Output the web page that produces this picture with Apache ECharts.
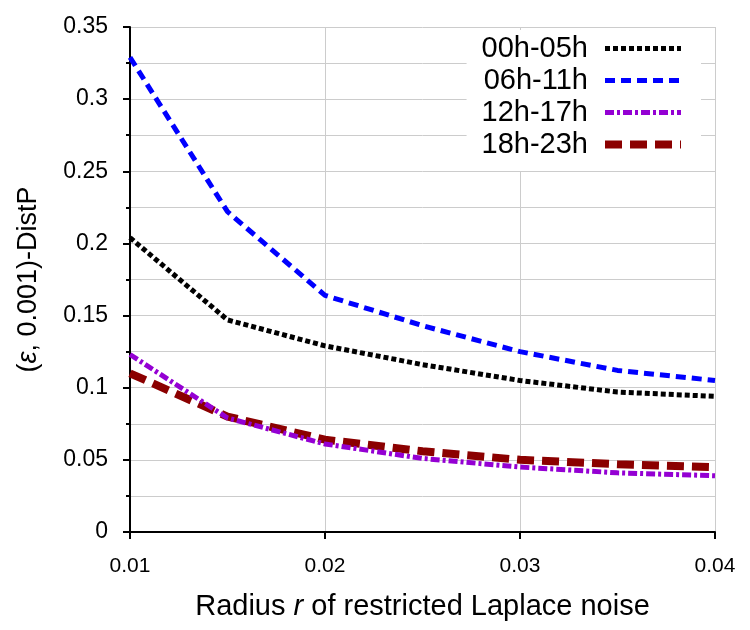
<!DOCTYPE html>
<html>
<head>
<meta charset="utf-8">
<script src="https://cdn.jsdelivr.net/npm/echarts@6/dist/echarts.min.js"></script>
<style>html,body{margin:0;padding:0;background:#fff;}#c{width:750px;height:630px;}</style>
</head>
<body>
<div id="c"></div>
<script>
const radius = [0.01, 0.015, 0.02, 0.025, 0.03, 0.035, 0.04];
const seriesNames = ['00h-05h', '06h-11h', '12h-17h', '18h-23h'];
const s00_05 = [0.204, 0.147, 0.129, 0.116, 0.105, 0.097, 0.094];
const s06_11 = [0.329, 0.222, 0.164, 0.143, 0.125, 0.112, 0.105];
const s12_17 = [0.123, 0.079, 0.061, 0.051, 0.045, 0.041, 0.039];
const s18_23 = [0.110, 0.080, 0.064, 0.056, 0.050, 0.047, 0.045];

const font = 'Liberation Sans, Arial, sans-serif';
const styles = [
  {color: '#000000', width: 5, type: [5, 3]},
  {color: '#0000ff', width: 5, type: [10, 6]},
  {color: '#9400d3', width: 5, type: [9, 3, 3, 3]},
  {color: '#8b0000', width: 8, type: [17, 8]}
];
const allData = [s00_05, s06_11, s12_17, s18_23];

const chart = echarts.init(document.getElementById('c'));
chart.setOption({
  animation: false,
  backgroundColor: '#fff',
  grid: {left: 130, right: 35, top: 27, bottom: 98},
  legend: {
    orient: 'vertical',
    right: 49,
    top: 30,
    align: 'right',
    backgroundColor: '#ffffff',
    padding: [4, 16, 12, 15],
    itemWidth: 76,
    itemHeight: 14,
    itemGap: 3,
    itemStyle: {opacity: 0},
    textStyle: {fontFamily: font, fontSize: 29, color: '#000', lineHeight: 27, padding: [0, 12, 0, 0]},
    data: seriesNames.map((n, k) => ({
      name: n,
      lineStyle: {color: styles[k].color, width: styles[k].width, type: styles[k].type, cap: 'butt'}
    }))
  },
  xAxis: {
    type: 'value',
    min: 0.01, max: 0.04, interval: 0.01,
    axisLine: {show: true, onZero: false, lineStyle: {color: '#000', width: 2}},
    axisTick: {show: true, length: 7, lineStyle: {color: '#000', width: 2}},
    axisLabel: {fontFamily: font, fontSize: 21, color: '#000', margin: 24},
    splitLine: {show: true, lineStyle: {color: '#cccccc', width: 1}},
    name: '{a|Radius }{i|r}{a| of restricted Laplace noise}',
    nameLocation: 'middle',
    nameGap: 60,
    nameTextStyle: {
      rich: {
        a: {fontFamily: font, fontSize: 29, color: '#000'},
        i: {fontFamily: font, fontSize: 29, color: '#000', fontStyle: 'italic'}
      }
    }
  },
  yAxis: {
    type: 'value',
    min: 0, max: 0.35, interval: 0.05,
    axisLine: {show: true, lineStyle: {color: '#000', width: 2}},
    axisTick: {show: true, length: 7, lineStyle: {color: '#000', width: 2}},
    minorTick: {show: true, splitNumber: 2, length: 4, lineStyle: {color: '#000', width: 2}},
    minorSplitLine: {show: true, lineStyle: {color: '#cccccc', width: 1}},
    axisLabel: {fontFamily: font, fontSize: 23, color: '#000', margin: 22},
    splitLine: {show: true, lineStyle: {color: '#cccccc', width: 1}},
    name: '{a|(}{i|ε}{a|, 0.001)-DistP}',
    nameLocation: 'middle',
    nameGap: 88,
    nameRotate: 90,
    nameTextStyle: {
      rich: {
        a: {fontFamily: font, fontSize: 27, color: '#000'},
        i: {fontFamily: font, fontSize: 27, color: '#000', fontStyle: 'italic'}
      }
    }
  },
  series: seriesNames.map((n, k) => ({
    name: n,
    type: 'line',
    data: radius.map((x, i) => [x, allData[k][i]]),
    showSymbol: false,
    symbol: 'none',
    color: styles[k].color,
    lineStyle: {color: styles[k].color, width: styles[k].width, type: styles[k].type, cap: 'butt'},
    z: 2 + (3 - k)
  }))
});
</script>
</body>
</html>
